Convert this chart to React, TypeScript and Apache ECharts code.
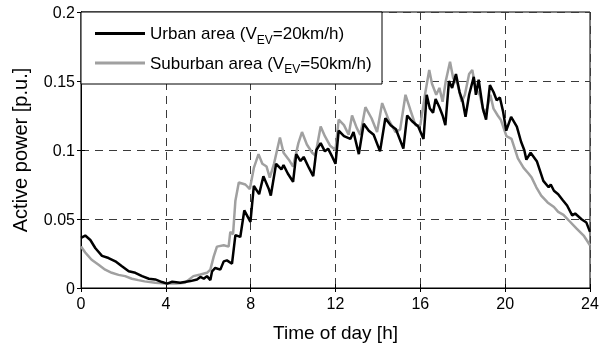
import React, { useEffect, useRef } from "react";
import * as echarts from "echarts";

const xTicks = [0, 4, 8, 12, 16, 20, 24];
const yTicks = [0, 0.05, 0.1, 0.15, 0.2];

const urbanHours = [0,0.2,0.44,0.68,0.99,1.3,1.62,1.93,2.25,2.56,2.88,3.2,3.5,3.82,4.06,4.3,4.68,5.16,5.47,5.63,5.79,5.94,6.1,6.18,6.33,6.57,6.73,6.88,7.12,7.28,7.51,7.7,7.99,8.15,8.4,8.6,8.85,8.95,9.2,9.45,9.55,9.75,10.0,10.15,10.35,10.5,10.75,10.95,11.1,11.3,11.5,11.65,11.85,12.0,12.15,12.4,12.7,12.85,13.1,13.33,13.57,13.8,14.1,14.35,14.6,14.85,15.2,15.38,15.6,15.9,16.15,16.3,16.45,16.6,16.72,16.9,17.05,17.18,17.35,17.5,17.68,17.85,18.0,18.13,18.3,18.52,18.62,18.75,18.95,19.1,19.28,19.45,19.6,19.75,19.9,20.05,20.28,20.55,20.75,20.9,21.0,21.2,21.5,21.8,22.05,22.15,22.3,22.5,22.7,22.92,23.16,23.3,23.6,23.83,24];
const urbanPower = [0.0364,0.038,0.0348,0.0288,0.0233,0.0217,0.0193,0.0157,0.0121,0.011,0.0086,0.0067,0.0062,0.0043,0.0032,0.0045,0.0038,0.005,0.0062,0.008,0.0067,0.0086,0.0057,0.0121,0.0145,0.0133,0.0193,0.02,0.0176,0.0383,0.037,0.0562,0.0479,0.074,0.068,0.081,0.072,0.067,0.09,0.086,0.089,0.083,0.077,0.097,0.092,0.095,0.087,0.081,0.1,0.105,0.099,0.101,0.095,0.09,0.114,0.11,0.108,0.113,0.097,0.119,0.114,0.111,0.099,0.123,0.118,0.115,0.101,0.125,0.121,0.117,0.108,0.14,0.13,0.127,0.137,0.131,0.125,0.118,0.15,0.145,0.155,0.142,0.135,0.124,0.14,0.153,0.14,0.151,0.13,0.122,0.147,0.142,0.136,0.138,0.128,0.114,0.124,0.117,0.106,0.1,0.093,0.098,0.0916,0.0776,0.073,0.075,0.0705,0.068,0.064,0.0598,0.0526,0.054,0.0498,0.0474,0.0407];

const suburbanHours = [0,0.2,0.5,0.83,1.14,1.45,1.77,2.08,2.4,2.7,3.0,3.5,4.0,4.5,4.9,5.3,5.63,5.94,6.1,6.26,6.41,6.73,6.96,7.04,7.17,7.28,7.44,7.75,7.96,8.15,8.37,8.55,8.75,8.9,9.1,9.38,9.55,9.8,10.0,10.25,10.42,10.65,10.9,11.05,11.3,11.5,11.75,12.0,12.15,12.4,12.62,12.78,13.0,13.17,13.41,13.7,13.96,14.2,14.5,14.83,15.05,15.3,15.53,15.77,16.0,16.24,16.42,16.55,16.75,16.9,17.05,17.2,17.4,17.55,17.75,17.95,18.1,18.3,18.45,18.6,18.8,19.0,19.15,19.3,19.45,19.65,19.8,20.06,20.3,20.45,20.6,20.87,21.1,21.25,21.47,21.7,22.0,22.3,22.5,22.75,23.06,23.37,23.7,24];
const suburbanPower = [0.03,0.0257,0.0205,0.0169,0.0133,0.011,0.0095,0.0086,0.0067,0.0057,0.0048,0.0038,0.0033,0.0033,0.0038,0.0086,0.0098,0.011,0.0133,0.0229,0.03,0.031,0.03,0.0407,0.039,0.0633,0.0764,0.075,0.0717,0.087,0.097,0.09,0.088,0.08,0.09,0.109,0.098,0.093,0.088,0.105,0.113,0.104,0.098,0.096,0.117,0.11,0.103,0.1,0.122,0.118,0.111,0.125,0.116,0.111,0.131,0.123,0.113,0.134,0.122,0.113,0.115,0.14,0.129,0.118,0.118,0.142,0.158,0.148,0.14,0.145,0.135,0.15,0.164,0.152,0.148,0.135,0.14,0.155,0.158,0.145,0.14,0.127,0.13,0.14,0.13,0.125,0.1217,0.11,0.108,0.101,0.094,0.087,0.083,0.08,0.073,0.067,0.062,0.0587,0.0552,0.053,0.048,0.043,0.038,0.031];

const seriesNames = ["Urban area (V_EV=20km/h)", "Suburban area (V_EV=50km/h)"];
const legendLabels: Record<string, string> = {
  [seriesNames[0]]: "{a|Urban area (V}{s|EV}{a|=20km/h)}",
  [seriesNames[1]]: "{a|Suburban area (V}{s|EV}{a|=50km/h)}",
};

const FONT = "'Liberation Sans', Arial, sans-serif";

export default function App() {
  const ref = useRef<HTMLDivElement>(null);
  useEffect(() => {
    if (!ref.current) return;
    const chart = echarts.init(ref.current, null, { renderer: "svg" });
    const pair = (xs: number[], ys: number[]) => xs.map((x, i) => [x, ys[i]]);
    const xMin = xTicks[0], xMax = xTicks[xTicks.length - 1];
    const yMin = yTicks[0], yMax = yTicks[yTicks.length - 1];
    const tickStyle = { show: true, inside: true, length: 4, lineStyle: { color: "#000" } };
    const split = { show: true, lineStyle: { color: "#3a3a3a", type: [8, 6] as any, width: 1 } };
    chart.setOption({
      animation: false,
      textStyle: { fontFamily: FONT },
      grid: { left: 81, right: 19, top: 12, bottom: 55, show: true, borderColor: "#000", borderWidth: 1, backgroundColor: "transparent" },
      xAxis: [
        {
          type: "value", min: xMin, max: xMax, interval: 4, position: "bottom",
          name: "Time of day [h]", nameLocation: "middle", nameGap: 35,
          nameTextStyle: { fontSize: 19, color: "#000", fontFamily: FONT },
          axisLine: { show: true, lineStyle: { color: "#000" } },
          axisTick: tickStyle,
          axisLabel: { fontSize: 16, color: "#000", margin: 7, fontFamily: FONT },
          splitLine: split,
        },
        {
          type: "value", min: xMin, max: xMax, interval: 4, position: "top",
          axisLine: { show: true, lineStyle: { color: "#000" } },
          axisTick: tickStyle, axisLabel: { show: false }, splitLine: { show: false },
        },
      ],
      yAxis: [
        {
          type: "value", min: yMin, max: yMax, interval: 0.05, position: "left",
          name: "Active power [p.u.]", nameLocation: "middle", nameGap: 51,
          nameTextStyle: { fontSize: 20, color: "#000", fontFamily: FONT },
          axisLine: { show: true, lineStyle: { color: "#000" } },
          axisTick: tickStyle,
          axisLabel: { fontSize: 16, color: "#000", margin: 6, fontFamily: FONT },
          splitLine: split,
        },
        {
          type: "value", min: yMin, max: yMax, interval: 0.05, position: "right",
          axisLine: { show: true, lineStyle: { color: "#000" } },
          axisTick: tickStyle, axisLabel: { show: false }, splitLine: { show: false },
        },
      ],
      graphic: [
        {
          type: "rect", z: 10,
          shape: { x: 81, y: 12, width: 301, height: 72 },
          style: { fill: "#fff", stroke: "#000", lineWidth: 1 },
        },
      ],
      legend: {
        z: 20,
        orient: "vertical", left: 90, top: 20, itemGap: 9,
        icon: "rect", itemWidth: 50, itemHeight: 3,
        data: seriesNames,
        formatter: (name: string) => legendLabels[name],
        textStyle: {
          color: "#000",
          rich: {
            a: { fontSize: 17, fontFamily: FONT, color: "#000", lineHeight: 24, verticalAlign: "middle" },
            s: { fontSize: 12, fontFamily: FONT, color: "#000", lineHeight: 12, verticalAlign: "bottom" },
          },
        },
      },
      series: [
        {
          name: seriesNames[0], type: "line", showSymbol: false, symbol: "none",
          data: pair(urbanHours, urbanPower),
          lineStyle: { color: "#000", width: 2.5 }, itemStyle: { color: "#000" }, z: 3,
        },
        {
          name: seriesNames[1], type: "line", showSymbol: false, symbol: "none",
          data: pair(suburbanHours, suburbanPower),
          lineStyle: { color: "#a0a0a0", width: 2.5 }, itemStyle: { color: "#a0a0a0" }, z: 2,
        },
      ],
    });
    return () => chart.dispose();
  }, []);
  return <div ref={ref} style={{ position: "fixed", left: 0, top: 0, width: 609, height: 347 }} />;
}
